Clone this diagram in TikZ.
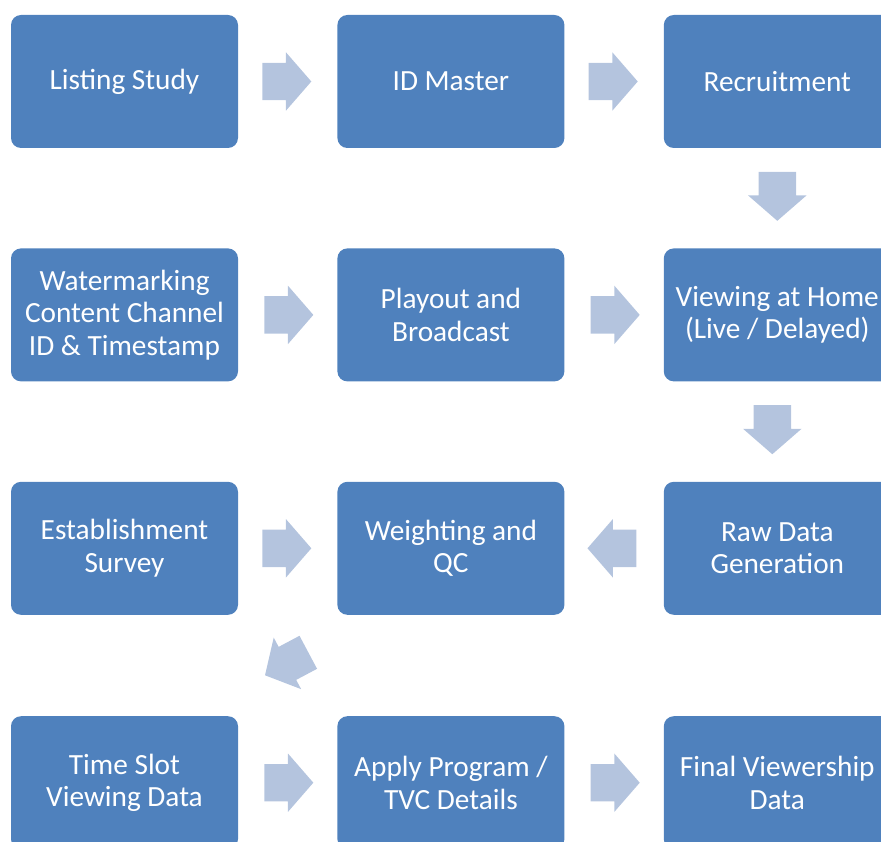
\documentclass[tikz,border=0pt]{standalone}
\usepackage{fontspec}
\setmainfont{Carlito}
\usetikzlibrary{shapes.arrows,positioning,calc}
\definecolor{stageblue}{RGB}{79,129,189}
\definecolor{flowblue}{RGB}{180,196,222}

\begin{document}
\begin{tikzpicture}[x=1pt, y=-1pt,
  stage/.style={fill=stageblue, rounded corners=10pt, minimum width=227pt,
    minimum height=133pt, inner sep=0pt, text=white, align=center,
    font=\fontsize{29.3}{32.5}\selectfont},
  flow/.style={single arrow, fill=flowblue, minimum height=49pt,
    inner xsep=0pt, inner ysep=18.5pt, single arrow head extend=10.5pt,
    single arrow tip angle=98}]
  \clip (0,0) rectangle (881,842);

  % row 1
  \node[stage] (listing) at (124.5,81.5) {Listing Study};
  \node[stage, right=99pt of listing] (idmaster) {ID Master};
  \node[stage, right=99pt of idmaster] (recruit) {Recruitment};
  % row 2
  \node[stage, below=100pt of listing] (watermark) {Watermarking\\Content Channel\\ID \& Timestamp};
  \node[stage, right=99pt of watermark] (playout) {Playout and\\Broadcast};
  \node[stage, right=99pt of playout] (viewing) {Viewing at Home\\(Live / Delayed)};
  % row 3
  \node[stage, below=100pt of watermark] (survey) {Establishment\\Survey};
  \node[stage, right=99pt of survey] (weighting) {Weighting and\\QC};
  \node[stage, right=99pt of weighting] (rawdata) {Raw Data\\Generation};
  % row 4
  \node[stage, below=101pt of survey] (timeslot) {Time Slot\\Viewing Data};
  \node[stage, right=99pt of timeslot] (apply) {Apply Program /\\TVC Details};
  \node[stage, right=99pt of apply] (final) {Final Viewership\\Data};

  % block arrows
  \node[flow, xshift=-9pt] (f1) at ($(listing.east)!0.5!(idmaster.west)$) {};
  \node[flow, xshift=-9pt] (f2) at ($(idmaster.east)!0.5!(recruit.west)$) {};
  \node[flow, rotate=270, xshift=-10pt] (f3) at ($(recruit.south)!0.5!(viewing.north)$) {};
  \node[flow, xshift=-7pt] (f4) at ($(watermark.east)!0.5!(playout.west)$) {};
  \node[flow, xshift=-7pt] (f5) at ($(playout.east)!0.5!(viewing.west)$) {};
  \node[flow, rotate=270, xshift=-10pt, yshift=-5pt] (f6) at ($(viewing.south)!0.5!(rawdata.north)$) {};
  \node[flow, xshift=-9pt] (f7) at ($(survey.east)!0.5!(weighting.west)$) {};
  \node[flow, rotate=180, xshift=-6pt] (f8) at ($(rawdata.west)!0.5!(weighting.east)$) {};
  \node[flow, rotate=208, xshift=-8pt, yshift=-2pt] (f9) at ($(weighting.south west)!0.5!(timeslot.north east)$) {};
  \node[flow, xshift=-7pt] (f10) at ($(timeslot.east)!0.5!(apply.west)$) {};
  \node[flow, xshift=-7pt] (f11) at ($(apply.east)!0.5!(final.west)$) {};
\end{tikzpicture}
\end{document}
